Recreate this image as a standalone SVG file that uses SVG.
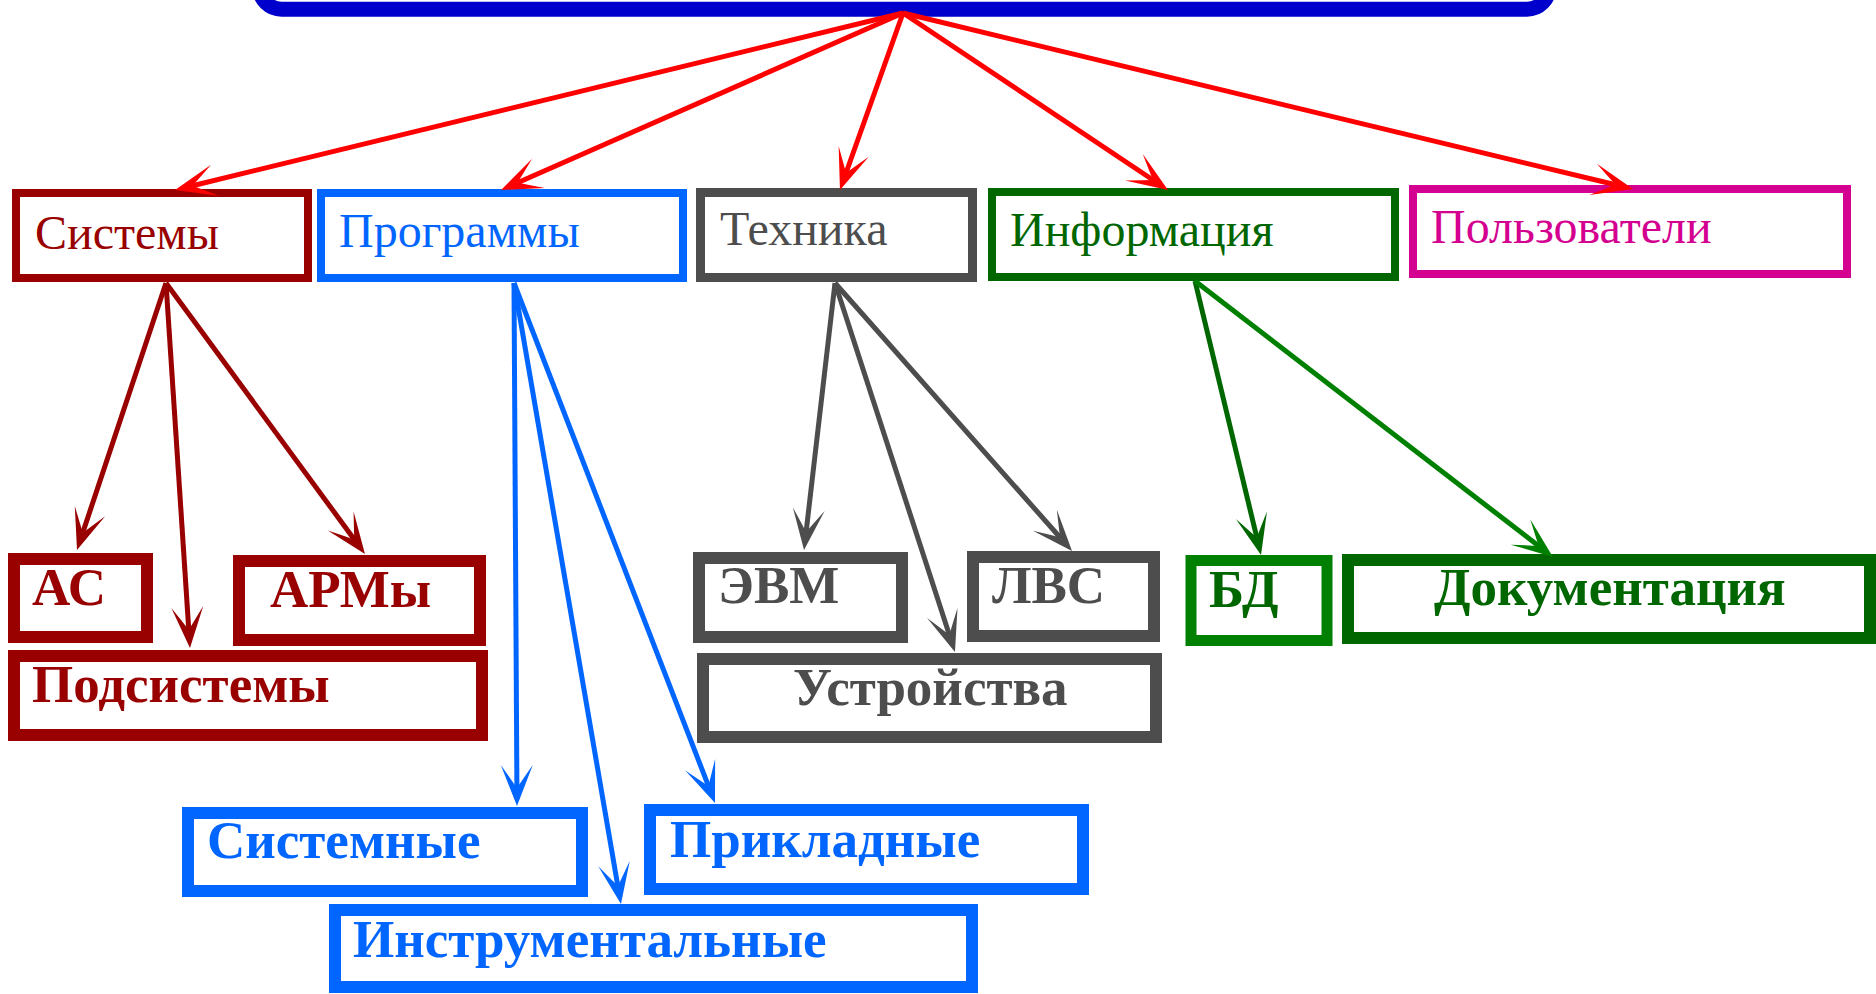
<svg xmlns="http://www.w3.org/2000/svg" width="1876" height="994" viewBox="0 0 1876 994">
<style>
  text { font-family: "Liberation Serif", "Times New Roman", serif; }
  .t1 { font-size: 48px; }
  .t2 { font-size: 53px; font-weight: bold; }
  rect { fill: #ffffff; }
  .l1 { stroke-width: 8; }
  .l2 { stroke-width: 12; }
  .c { fill: none; stroke-width: 5; }
  .red { stroke: #ff0000; marker-end: url(#mRed); }
  .dred { stroke: #990000; marker-end: url(#mDred); }
  .blue { stroke: #0066ff; marker-end: url(#mBlue); }
  .gray { stroke: #4d4d4d; marker-end: url(#mGray); }
  .grn { stroke: #006600; marker-end: url(#mGrn); }
  .grn2 { stroke: #008000; marker-end: url(#mGrn2); }
</style>
<defs>
  <path id="ah" d="M18,0 L-23,-16 Q-6,-4 0,0 Q-6,4 -23,16 Z"/>
  <marker id="mRed" markerUnits="userSpaceOnUse" orient="auto" refX="0" refY="0" markerWidth="1" markerHeight="1" overflow="visible"><use href="#ah" fill="#ff0000"/></marker>
  <marker id="mDred" markerUnits="userSpaceOnUse" orient="auto" refX="0" refY="0" markerWidth="1" markerHeight="1" overflow="visible"><use href="#ah" fill="#990000"/></marker>
  <marker id="mBlue" markerUnits="userSpaceOnUse" orient="auto" refX="0" refY="0" markerWidth="1" markerHeight="1" overflow="visible"><use href="#ah" fill="#0066ff"/></marker>
  <marker id="mGray" markerUnits="userSpaceOnUse" orient="auto" refX="0" refY="0" markerWidth="1" markerHeight="1" overflow="visible"><use href="#ah" fill="#4d4d4d"/></marker>
  <marker id="mGrn" markerUnits="userSpaceOnUse" orient="auto" refX="0" refY="0" markerWidth="1" markerHeight="1" overflow="visible"><use href="#ah" fill="#006600"/></marker>
  <marker id="mGrn2" markerUnits="userSpaceOnUse" orient="auto" refX="0" refY="0" markerWidth="1" markerHeight="1" overflow="visible"><use href="#ah" fill="#008000"/></marker>
</defs>

<g id="root">
  <rect x="259.5" y="-100" width="1289.5" height="109.2" rx="22" ry="22" stroke="#0000cc" stroke-width="15"/>
</g>

<g id="n-sistemy"><rect class="l1" x="16" y="193" width="292" height="85" stroke="#990000"/><text class="t1" x="35" y="249" fill="#990000">Системы</text></g>
<g id="n-programmy"><rect class="l1" x="321" y="193" width="362" height="85" stroke="#0066ff"/><text class="t1" x="339" y="247" fill="#0066ff">Программы</text></g>
<g id="n-tehnika"><rect x="700.5" y="192.5" width="272" height="85" stroke="#4d4d4d" stroke-width="9"/><text class="t1" x="720" y="245" fill="#4d4d4d">Техника</text></g>
<g id="n-informaciya"><rect class="l1" x="992" y="192" width="403" height="85" stroke="#006600"/><text class="t1" x="1010" y="246" fill="#006600">Информация</text></g>
<g id="n-polzovateli"><rect class="l1" x="1413" y="189" width="434" height="85" stroke="#d40090"/><text class="t1" x="1431" y="243" fill="#d40090">Пользователи</text></g>

<g id="n-as"><rect class="l2" x="14" y="559" width="133" height="78" stroke="#990000"/><text class="t2" x="32" y="605" fill="#990000">АС</text></g>
<g id="n-army"><rect class="l2" x="239" y="561" width="241" height="79" stroke="#990000"/><text class="t2" x="270" y="607" fill="#990000">АРМы</text></g>
<g id="n-podsistemy"><rect class="l2" x="14" y="656" width="468" height="79" stroke="#990000"/><text class="t2" x="32" y="702" fill="#990000">Подсистемы</text></g>

<g id="n-sistemnye"><rect class="l2" x="188" y="813" width="394" height="78" stroke="#0066ff"/><text class="t2" x="207" y="858" fill="#0066ff">Системные</text></g>
<g id="n-prikladnye"><rect class="l2" x="650" y="810" width="433" height="79" stroke="#0066ff"/><text class="t2" x="670" y="857" fill="#0066ff">Прикладные</text></g>
<g id="n-instrumentalnye"><rect class="l2" x="335" y="910" width="637" height="77" stroke="#0066ff"/><text class="t2" x="353" y="957" fill="#0066ff">Инструментальные</text></g>

<g id="n-evm"><rect class="l2" x="699" y="558" width="203" height="79" stroke="#4d4d4d"/><text class="t2" x="718" y="603" fill="#4d4d4d">ЭВМ</text></g>
<g id="n-lvs"><rect class="l2" x="973" y="557" width="181" height="79" stroke="#4d4d4d"/><text class="t2" x="992" y="603" fill="#4d4d4d">ЛВС</text></g>
<g id="n-ustroystva"><rect class="l2" x="703" y="659" width="453" height="78" stroke="#4d4d4d"/><text class="t2" x="793" y="705" fill="#4d4d4d">Устройства</text></g>

<g id="n-bd"><rect x="1191" y="560.5" width="136" height="80" stroke="#008000" stroke-width="11"/><text class="t2" x="1209" y="607" fill="#006600">БД</text></g>
<g id="n-dokumentaciya"><rect class="l2" x="1348" y="560" width="522" height="78" stroke="#006600"/><text class="t2" x="1434" y="605" fill="#006600">Документация</text></g>

<g id="connectors">
  <line class="c red" x1="903" y1="13" x2="192.5" y2="185.7"/>
  <line class="c red" x1="903" y1="13" x2="517.5" y2="182.7"/>
  <line class="c red" x1="903" y1="13" x2="846" y2="173"/>
  <line class="c red" x1="903" y1="13" x2="1153" y2="180"/>
  <line class="c red" x1="903" y1="13" x2="1615.5" y2="184.8"/>

  <line class="c dred" x1="166" y1="283" x2="82.7" y2="532.9"/>
  <line class="c dred" x1="166" y1="283" x2="188.8" y2="630"/>
  <line class="c dred" x1="166" y1="283" x2="354.3" y2="539.5"/>

  <line class="c blue" x1="514" y1="283" x2="516.9" y2="788"/>
  <line class="c blue" x1="514" y1="283" x2="617.9" y2="886.3"/>
  <line class="c blue" x1="514" y1="283" x2="708.5" y2="786.2"/>

  <line class="c gray" x1="835" y1="283" x2="806.1" y2="532.1"/>
  <line class="c gray" x1="835" y1="283" x2="949.4" y2="634.9"/>
  <line class="c gray" x1="835" y1="283" x2="1060.1" y2="537.5"/>

  <line class="c grn" x1="1195" y1="281" x2="1256.8" y2="537.5"/>
  <line class="c grn2" x1="1195" y1="281" x2="1538.7" y2="546"/>
</g>
</svg>
